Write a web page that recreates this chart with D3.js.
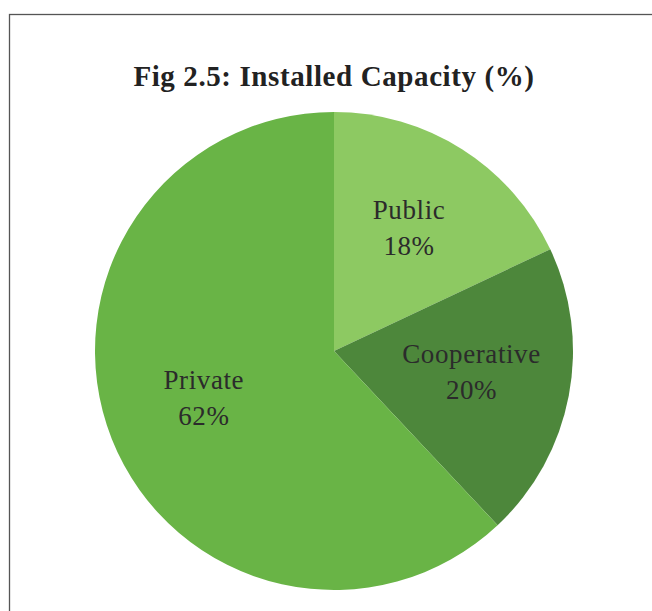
<!DOCTYPE html>
<html>
<head>
<meta charset="utf-8">
<script src="https://cdn.jsdelivr.net/npm/d3@7"></script>
<style>
  body { margin: 0; background: #fff; }
</style>
</head>
<body>
<div class="canva"></div>
<script>
// chart data
const categories = ["Public", "Cooperative", "Private"];
const shares = [18, 20, 62];
const colours = ["#8dc962", "#4d873b", "#69b446"];

const width = 652, height = 611;
const cx = 334, cy = 351, radius = 239;

const svg = d3.select(".canva").append("svg")
              .attr("width", width)
              .attr("height", height);

// frame
svg.append("rect")
   .attr("x", 9.5).attr("y", 14.5)
   .attr("width", 700).attr("height", 700)
   .attr("fill", "none")
   .attr("stroke", "#555")
   .attr("stroke-width", 1.3);

// title
svg.append("text")
   .text("Fig 2.5: Installed Capacity (%)")
   .attr("x", cx).attr("y", 86)
   .attr("text-anchor", "middle")
   .attr("font-family", "Liberation Serif, serif")
   .attr("font-weight", "bold")
   .attr("font-size", 29)
   .attr("letter-spacing", 0.6)
   .attr("fill", "#222");

const data = categories.map((c, i) => ({ name: c, value: shares[i], fill: colours[i] }));

const pie = d3.pie().value(d => d.value).sort(null);
const arc = d3.arc().innerRadius(0).outerRadius(radius);
const labelArc = d3.arc().innerRadius(140).outerRadius(140);

const g = svg.append("g").attr("transform", `translate(${cx},${cy})`);

g.selectAll("path")
 .data(pie(data))
 .enter().append("path")
 .attr("d", arc)
 .attr("fill", d => d.data.fill);

//labels
const lbl = g.selectAll("text.lbl")
             .data(pie(data))
             .enter().append("text")
             .attr("class", "lbl")
             .attr("transform", d => `translate(${labelArc.centroid(d)})`)
             .attr("text-anchor", "middle")
             .attr("font-family", "Liberation Serif, serif")
             .attr("font-size", 27)
             .attr("letter-spacing", 0.6)
             .attr("fill", "#2b2b2b");

lbl.append("tspan").attr("x", 0).attr("y", -14).text(d => d.data.name);
lbl.append("tspan").attr("x", 0).attr("y", 22).text(d => d.data.value + "%");
</script>
</body>
</html>
